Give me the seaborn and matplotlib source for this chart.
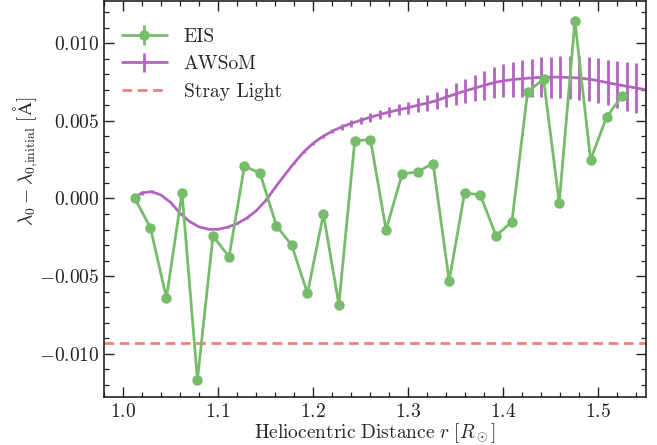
import numpy as np
import matplotlib
matplotlib.use("Agg")
import matplotlib.pyplot as plt
from matplotlib.ticker import MultipleLocator, FuncFormatter
import seaborn as sns

# ---------------- data ----------------
eis_r = [1.0124, 1.0288, 1.0457, 1.0621, 1.0783, 1.0947, 1.1116, 1.1278,
         1.1442, 1.1615, 1.1776, 1.1941, 1.2109, 1.2271, 1.2439, 1.2604,
         1.2768, 1.2937, 1.3099, 1.3263, 1.3432, 1.3594, 1.3758, 1.3926,
         1.4092, 1.4257, 1.4425, 1.4590, 1.4755, 1.4920, 1.5088, 1.5253]
eis_shift = [0.0, -0.00187, -0.00641, 0.00037, -0.01167, -0.00242, -0.00375, 0.00209,
             0.00163, -0.00176, -0.00302, -0.00611, -0.00100, -0.00684, 0.00373, 0.00378,
             -0.00201, 0.00157, 0.00172, 0.00225, -0.00530, 0.00035, 0.00024, -0.00240,
             -0.00150, 0.00685, 0.00769, -0.00028, 0.01144, 0.00249, 0.00524, 0.00661]
eis_err = [0.0001] * len(eis_r)

awsom_r = [1.015, 1.02, 1.03, 1.04, 1.05, 1.06, 1.07, 1.08, 1.09, 1.10,
           1.11, 1.12, 1.13, 1.14, 1.15, 1.16, 1.17, 1.18, 1.19, 1.20,
           1.21, 1.22, 1.23, 1.24, 1.25, 1.26, 1.27, 1.28, 1.29, 1.30,
           1.31, 1.32, 1.33, 1.34, 1.35, 1.36, 1.37, 1.38, 1.39, 1.40,
           1.41, 1.42, 1.43, 1.44, 1.45, 1.46, 1.47, 1.48, 1.49, 1.50,
           1.51, 1.52, 1.53, 1.54, 1.55]
awsom_shift = [0.00017, 0.00036, 0.00044, 0.00022, -0.00025, -0.00095, -0.00148, -0.00183, -0.00198, -0.00198,
               -0.00185, -0.00162, -0.00127, -0.00080, -0.00015, 0.00070, 0.00150, 0.00228, 0.00298, 0.00355,
               0.00398, 0.00433, 0.00460, 0.00483, 0.00503, 0.00522, 0.00540, 0.00556, 0.00570, 0.00584,
               0.00600, 0.00614, 0.00630, 0.00652, 0.00672, 0.00692, 0.00710, 0.00728, 0.00745, 0.00757,
               0.00765, 0.00771, 0.00776, 0.00780, 0.00781, 0.00781, 0.00778, 0.00775, 0.00768, 0.00758,
               0.00745, 0.00733, 0.00722, 0.00711, 0.00700]
awsom_err = [0.0, 0.00012, 0.00010, 0.00002, 0.00002, 0.00002, 0.00002, 0.00002, 0.00002, 0.00002,
             0.00002, 0.00002, 0.00002, 0.00002, 0.00002, 0.00002, 0.00002, 0.00003, 0.00005, 0.00010,
             0.00012, 0.00014, 0.00017, 0.00020, 0.00024, 0.00027, 0.00030, 0.00033, 0.00036, 0.00040,
             0.00045, 0.00050, 0.00056, 0.00062, 0.00070, 0.00077, 0.00085, 0.00092, 0.00100, 0.00107,
             0.00113, 0.00119, 0.00124, 0.00128, 0.00132, 0.00135, 0.00138, 0.00140, 0.00141, 0.00143,
             0.00146, 0.00150, 0.00156, 0.00163, 0.00170]

stray_light = -0.0093

labels = ["EIS", "AWSoM", "Stray Light"]
xlabel = r"$\mathrm{Heliocentric\ Distance}\ r\ [R_\odot]$"
ylabel = r"$\lambda_0 - \lambda_{0{,}\mathrm{initial}}\ [\mathrm{\AA}]$"

# ---------------- style ----------------
sns.set_theme(style="ticks")
plt.rcParams.update({
    "font.family": "serif",
    "font.serif": ["cmr10", "DejaVu Serif"],
    "mathtext.fontset": "cm",
    "axes.formatter.use_mathtext": True,
    "font.size": 14,
    "axes.labelsize": 14,
    "xtick.labelsize": 14,
    "ytick.labelsize": 14,
    "legend.fontsize": 14,
    "axes.linewidth": 1.2,
    "axes.edgecolor": "#222222",
    "xtick.direction": "in",
    "ytick.direction": "in",
    "xtick.top": True,
    "ytick.right": True,
    "xtick.major.size": 7,
    "ytick.major.size": 7,
    "xtick.minor.size": 3.5,
    "ytick.minor.size": 3.5,
    "xtick.major.width": 1.0,
    "ytick.major.width": 1.0,
    "xtick.minor.width": 0.9,
    "ytick.minor.width": 0.9,
    "xtick.minor.visible": True,
    "ytick.minor.visible": True,
    "xtick.color": "#222222",
    "ytick.color": "#222222",
    "xtick.major.pad": 4,
})

green = "#76bc6b"
purple = "#b264bf"
red = "#ef8080"

fig = plt.figure(figsize=(6.57, 4.45), dpi=100)
ax = fig.add_axes([0.1583, 0.107, 0.8245, 0.8905])

h_eis = ax.errorbar(eis_r, eis_shift, yerr=eis_err, color=green, marker="o", ms=6.5,
                    lw=2.0, elinewidth=2.0, label=labels[0], zorder=3)
h_aws = ax.errorbar(awsom_r, awsom_shift, yerr=awsom_err, color=purple, lw=2.0,
                    elinewidth=2.0, label=labels[1], zorder=2)
h_sl = ax.axhline(stray_light, color=red, ls=(0, (3.5, 2.0)), lw=2.0, label=labels[2], zorder=1)

ax.set_xlim(0.98, 1.55)
ax.set_ylim(-0.0128, 0.0127)
ax.xaxis.set_major_locator(MultipleLocator(0.1))
ax.xaxis.set_minor_locator(MultipleLocator(0.02))
ax.yaxis.set_major_locator(MultipleLocator(0.005))
ax.yaxis.set_minor_locator(MultipleLocator(0.001))
ax.xaxis.set_major_formatter(FuncFormatter(lambda v, p: f"${v:.1f}$"))
ax.yaxis.set_major_formatter(FuncFormatter(
    lambda v, p: f"${v:.3f}$" if abs(v) > 1e-12 else "$0.000$"))

ax.set_xlabel(xlabel, labelpad=0)
ax.set_ylabel(ylabel, labelpad=6)
ax.yaxis.set_label_coords(-0.118, 0.595)

ax.legend([h_eis, h_aws, h_sl], labels, loc="upper left", frameon=False,
          handlelength=2.35, handletextpad=0.85, bbox_to_anchor=(0.0, 0.977))

fig.savefig("out.png", dpi=100)
